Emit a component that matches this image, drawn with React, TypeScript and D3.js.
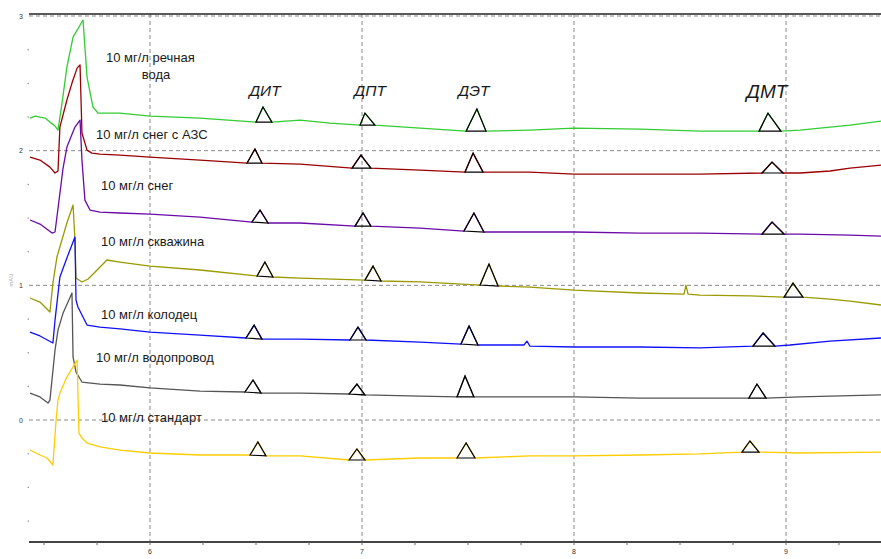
import React from "react";
import * as d3 from "d3";

// ---------- data (time in min, signal in mAU) ----------
const timeTicks = [6, 7, 8, 9];
const signalTicks = [0, 1, 2, 3];

const seriesLabels = [
  ["10 мг/л речная", "вода"],
  ["10 мг/л снег с АЗС"],
  ["10 мг/л снег"],
  ["10 мг/л скважина"],
  ["10 мг/л колодец"],
  ["10 мг/л водопровод"],
  ["10 мг/л стандарт"],
];

const peakNames = ["ДИТ", "ДПТ", "ДЭТ", "ДМТ"];
const peakNameTimes = [6.542, 7.038, 7.528, 8.91];

type Pt = [number, number];
type Peak = [number, number, number, number, number, number];

const riverWater: Pt[] = [
  [5.434, 2.242], [5.458, 2.257], [5.481, 2.249], [5.505, 2.242], [5.528, 2.212], [5.552, 2.183],
  [5.566, 2.153], [5.585, 2.353], [5.608, 2.621], [5.637, 2.843], [5.684, 2.97], [5.703, 2.546],
  [5.731, 2.324], [5.755, 2.279], [5.858, 2.279], [6.0, 2.257], [6.236, 2.242], [6.708, 2.227],
  [6.849, 2.205], [7.274, 2.168], [7.792, 2.153], [8.0, 2.168], [8.311, 2.16], [8.594, 2.145],
  [9.066, 2.153], [9.208, 2.175], [9.302, 2.19], [9.448, 2.22],
];
const riverPeaks: Peak[] = [
  [6.5, 2.212, 6.533, 2.324, 6.575, 2.212],
  [6.991, 2.19, 7.014, 2.279, 7.061, 2.19],
  [7.491, 2.145, 7.542, 2.309, 7.585, 2.145],
  [8.873, 2.145, 8.915, 2.279, 8.976, 2.145],
];

const snowGas: Pt[] = [
  [5.434, 1.952], [5.481, 1.93], [5.528, 1.878], [5.552, 1.834], [5.566, 1.849], [5.575, 2.175],
  [5.608, 2.376], [5.632, 2.502], [5.656, 2.613], [5.67, 2.636], [5.675, 2.36], [5.679, 2.131],
  [5.703, 2.004], [5.726, 1.982], [5.764, 1.975], [5.858, 1.967], [6.0, 1.952], [6.236, 1.93],
  [6.708, 1.9], [7.274, 1.856], [7.792, 1.841], [8.0, 1.826], [8.311, 1.826], [8.594, 1.826],
  [9.066, 1.834], [9.208, 1.849], [9.302, 1.871], [9.448, 1.893],
];
const snowGasPeaks: Peak[] = [
  [6.458, 1.908, 6.495, 2.012, 6.528, 1.908],
  [6.953, 1.871, 6.995, 1.967, 7.042, 1.871],
  [7.486, 1.841, 7.524, 1.982, 7.571, 1.841],
  [8.887, 1.834, 8.934, 1.915, 8.986, 1.834],
];

const snow: Pt[] = [
  [5.434, 1.485], [5.481, 1.455], [5.519, 1.411], [5.538, 1.388], [5.552, 1.396], [5.571, 1.633],
  [5.59, 1.871], [5.608, 2.027], [5.646, 2.175], [5.67, 2.227], [5.679, 1.93], [5.693, 1.633],
  [5.717, 1.559], [5.764, 1.544], [5.858, 1.537], [6.0, 1.529], [6.236, 1.507], [6.708, 1.463],
  [7.274, 1.425], [7.792, 1.396], [8.0, 1.396], [8.311, 1.388], [8.594, 1.388], [9.066, 1.381],
  [9.302, 1.373], [9.448, 1.366],
];
const snowPeaks: Peak[] = [
  [6.481, 1.47, 6.519, 1.559, 6.557, 1.463],
  [6.967, 1.44, 7.005, 1.537, 7.042, 1.44],
  [7.481, 1.403, 7.528, 1.537, 7.575, 1.396],
  [8.887, 1.381, 8.934, 1.47, 8.991, 1.381],
];

const well: Pt[] = [
  [5.434, 0.906], [5.481, 0.876], [5.528, 0.802], [5.542, 1.017], [5.561, 1.21], [5.608, 1.463],
  [5.637, 1.596], [5.646, 1.336], [5.651, 1.054], [5.679, 1.025], [5.708, 1.047], [5.741, 1.099],
  [5.797, 1.188], [5.858, 1.173], [6.0, 1.143], [6.236, 1.114], [6.708, 1.054], [7.274, 1.025],
  [7.792, 0.987], [8.0, 0.965], [8.311, 0.943], [8.519, 0.935], [8.528, 1.002], [8.538, 0.935],
  [8.594, 0.928], [8.83, 0.921], [9.208, 0.898], [9.302, 0.883], [9.448, 0.854],
];
const wellPeaks: Peak[] = [
  [6.505, 1.069, 6.542, 1.173, 6.58, 1.062],
  [7.014, 1.039, 7.052, 1.143, 7.09, 1.032],
  [7.557, 1.002, 7.599, 1.158, 7.642, 0.995],
  [8.991, 0.913, 9.033, 1.017, 9.08, 0.913],
];

const dugWell: Pt[] = [
  [5.434, 0.653], [5.481, 0.624], [5.542, 0.572], [5.552, 0.742], [5.575, 1.062], [5.608, 1.203],
  [5.646, 1.359], [5.651, 0.891], [5.66, 0.839], [5.703, 0.705], [5.764, 0.69], [5.858, 0.676],
  [6.0, 0.653], [6.236, 0.631], [6.708, 0.601], [7.274, 0.579], [7.764, 0.557], [7.778, 0.586],
  [7.792, 0.549], [8.0, 0.542], [8.311, 0.542], [8.594, 0.535], [9.019, 0.557], [9.208, 0.586],
  [9.448, 0.609],
];
const dugWellPeaks: Peak[] = [
  [6.453, 0.609, 6.491, 0.705, 6.528, 0.601],
  [6.943, 0.594, 6.981, 0.69, 7.019, 0.594],
  [7.467, 0.564, 7.505, 0.698, 7.547, 0.557],
  [8.844, 0.549, 8.892, 0.646, 8.948, 0.549],
];

const tapWater: Pt[] = [
  [5.434, 0.2], [5.481, 0.171], [5.519, 0.126], [5.528, 0.148], [5.552, 0.52], [5.566, 0.668],
  [5.59, 0.794], [5.632, 0.943], [5.637, 0.468], [5.651, 0.356], [5.679, 0.282], [5.764, 0.267],
  [5.858, 0.26], [6.0, 0.238], [6.236, 0.215], [6.708, 0.2], [7.274, 0.178], [7.792, 0.171],
  [8.0, 0.171], [8.311, 0.163], [8.594, 0.163], [9.066, 0.171], [9.448, 0.186],
];
const tapWaterPeaks: Peak[] = [
  [6.448, 0.208, 6.486, 0.297, 6.524, 0.2],
  [6.939, 0.193, 6.976, 0.267, 7.014, 0.186],
  [7.448, 0.171, 7.486, 0.327, 7.528, 0.171],
  [8.825, 0.163, 8.863, 0.267, 8.906, 0.163],
];

const standard: Pt[] = [
  [5.434, -0.223], [5.481, -0.26], [5.514, -0.282], [5.542, -0.334], [5.557, 0.0], [5.566, 0.148],
  [5.575, 0.2], [5.608, 0.319], [5.656, 0.445], [5.665, -0.097], [5.679, -0.134], [5.703, -0.171],
  [5.764, -0.2], [5.858, -0.223], [6.0, -0.245], [6.236, -0.26], [6.708, -0.267], [7.274, -0.282],
  [7.792, -0.267], [8.0, -0.267], [8.311, -0.26], [8.594, -0.252], [9.066, -0.245], [9.448, -0.238],
];
const standardPeaks: Peak[] = [
  [6.472, -0.26, 6.509, -0.163, 6.547, -0.267],
  [6.939, -0.297, 6.976, -0.215, 7.014, -0.297],
  [7.448, -0.282, 7.491, -0.171, 7.533, -0.282],
  [8.792, -0.238, 8.83, -0.156, 8.873, -0.238],
];

// ---------- styles ----------
const W = 881;
const H = 559;
const colors = ["#33cc33", "#9b0000", "#6a0aa8", "#9a9a00", "#1010ff", "#555555", "#ffcc00"];
const labelPos: [number, number][] = [
  [106, 62], [96, 139], [101, 190], [101, 246], [101, 319], [96, 362], [101, 422],
];

const traces: Pt[][] = [riverWater, snowGas, snow, well, dugWell, tapWater, standard];
const peaks: Peak[][] = [riverPeaks, snowGasPeaks, snowPeaks, wellPeaks, dugWellPeaks, tapWaterPeaks, standardPeaks];

export default function App() {
  const x = d3.scaleLinear().domain([6, 9]).range([150, 786]);
  const y = d3.scaleLinear().domain([0, 3]).range([420, 16]);
  const left = 29;
  const right = W;
  const top = 14;
  const bottom = 542;

  const line = d3
    .line<Pt>()
    .x((d) => x(d[0]))
    .y((d) => y(d[1]));

  const merged = traces.map((tr, i) => {
    const pts: Pt[] = tr.slice();
    peaks[i].forEach((p) => {
      pts.push([p[0], p[1]], [p[2], p[3]], [p[4], p[5]]);
    });
    pts.sort((a, b) => a[0] - b[0]);
    return pts;
  });

  const minorX = d3.range(5.5, 9.5, 0.25);
  const minorY = d3.range(-0.75, 3.01, 0.25).filter((v) => Math.abs(v - Math.round(v)) > 0.01);

  const font = "'Liberation Sans', Arial, sans-serif";

  return (
    <svg
      width={W}
      height={H}
      style={{ position: "absolute", left: 0, top: 0, background: "#fff" }}
      fontFamily={font}
    >
      <rect x={0} y={0} width={W} height={H} fill="#fff" />
      {/* vertical grid */}
      {timeTicks.map((t) => (
        <line key={"vg" + t} x1={x(t)} x2={x(t)} y1={top} y2={bottom} stroke="#8a8a8a" strokeDasharray="4,3" strokeWidth={1} />
      ))}
      {/* horizontal grid */}
      {signalTicks.map((v) => (
        <line key={"hg" + v} x1={left} x2={right} y1={y(v)} y2={y(v)} stroke="#8a8a8a" strokeDasharray="4,3" strokeWidth={1} />
      ))}
      {/* top frame line */}
      <line x1={left} x2={right} y1={top} y2={top} stroke="#222" strokeWidth={1.5} />
      {/* bottom axis */}
      <line x1={left} x2={right} y1={bottom} y2={bottom} stroke="#444" strokeWidth={2} />
      {minorX.map((t) => (
        <line key={"mx" + t} x1={x(t)} x2={x(t)} y1={bottom} y2={bottom + 3} stroke="#666" strokeWidth={1} />
      ))}
      {timeTicks.map((t) => (
        <text key={"tx" + t} x={x(t)} y={bottom + 12} fontSize={7} textAnchor="middle" fill="#333">
          {t}
        </text>
      ))}
      {/* y axis labels */}
      {signalTicks.map((v) => (
        <text key={"ty" + v} x={21} y={y(v) + 2.5} fontSize={7} textAnchor="middle" fill="#333">
          {v}
        </text>
      ))}
      {minorY.map((v) => (
        <rect key={"my" + v} x={27.5} y={y(v) - 0.5} width={1.5} height={1.2} fill="#999" />
      ))}
      <text x={13} y={280} fontSize={6} fill="#aaa" textAnchor="middle" transform="rotate(-90 13 280)">
        mAU
      </text>

      {/* traces */}
      {merged.map((pts, i) => (
        <path key={"tr" + i} d={line(pts) || ""} fill="none" stroke={colors[i]} strokeWidth={1.3} strokeLinejoin="round" />
      ))}

      {/* peak triangles */}
      {peaks.map((ps, i) =>
        ps.map((p, j) => (
          <path
            key={"pk" + i + "-" + j}
            d={`M${x(p[0])},${y(p[1])}L${x(p[2])},${y(p[3])}L${x(p[4])},${y(p[5])}Z`}
            fill="none"
            stroke="#000"
            strokeWidth={1.2}
            strokeLinejoin="miter"
          />
        ))
      )}

      {/* series labels */}
      {seriesLabels.map((lines, i) => (
        <text key={"sl" + i} x={labelPos[i][0]} y={labelPos[i][1]} fontSize={13} fill="#1a1a1a">
          {lines[0]}
          {lines.length > 1 ? (
            <tspan x={labelPos[i][0] + 50} dy={17} textAnchor="middle">
              {lines[1]}
            </tspan>
          ) : null}
        </text>
      ))}

      {/* peak names */}
      {peakNames.map((n, i) => (
        <text
          key={"pn" + i}
          x={x(peakNameTimes[i])}
          y={i === 3 ? 98 : 96}
          fontSize={i === 3 ? 19 : 15.5}
          fontStyle="italic"
          textAnchor="middle"
          fill="#1a1a1a"
        >
          {n}
        </text>
      ))}
    </svg>
  );
}
